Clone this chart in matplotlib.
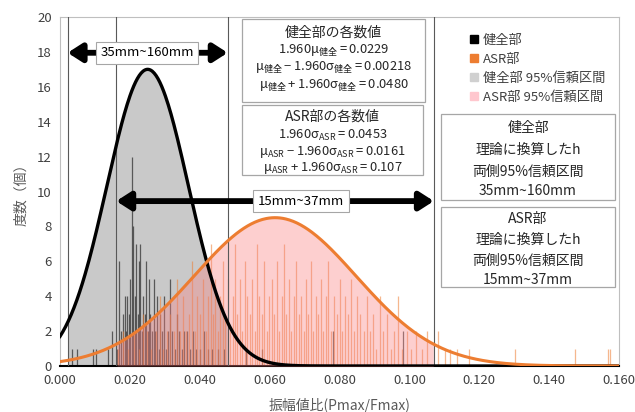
import numpy as np
import matplotlib
matplotlib.use("Agg")
import matplotlib.pyplot as plt
from matplotlib.patches import Rectangle, Patch

plt.rcParams["font.family"] = ["Noto Sans CJK JP", "DejaVu Sans"]
plt.rcParams["mathtext.fontset"] = "custom"
plt.rcParams["mathtext.rm"] = "Noto Sans CJK JP"
plt.rcParams["mathtext.it"] = "Noto Sans CJK JP"
plt.rcParams["mathtext.bf"] = "Noto Sans CJK JP:bold"

# --- data ------------------------------------------------------------------
# healthy part (健全部): bin position and count
healthy_x = [0.0033, 0.0049, 0.0094, 0.0102, 0.0137, 0.0149, 0.0163, 0.0169, 0.0174, 0.0179,
             0.0185, 0.0189, 0.0193, 0.0197, 0.0201, 0.0206, 0.0210, 0.0214, 0.0218, 0.0222,
             0.0226, 0.0230, 0.0234, 0.0238, 0.0243, 0.0247, 0.0251, 0.0255, 0.0259, 0.0264,
             0.0268, 0.0273, 0.0277, 0.0282, 0.0287, 0.0292, 0.0297, 0.0303, 0.0309, 0.0315,
             0.0321, 0.0328, 0.0334, 0.0341, 0.0348, 0.0356, 0.0364, 0.0372, 0.0381, 0.0390,
             0.0400, 0.0411, 0.0423, 0.0436, 0.0452, 0.0468, 0.0531, 0.0578, 0.0782, 0.0983]
healthy_n = [1, 1, 1, 1, 1, 2, 1, 6, 2, 3,
             4, 2, 4, 3, 5, 12, 8, 4, 7, 3,
             6, 7, 2, 4, 3, 6, 2, 5, 3, 2,
             5, 2, 4, 1, 3, 2, 4, 1, 2, 5,
             2, 1, 3, 2, 1, 2, 2, 1, 2, 1,
             1, 2, 1, 1, 1, 1, 1, 1, 2, 2]

# ASR part (ASR部)
asr_x = [0.0165, 0.0181, 0.0196, 0.0212, 0.0227, 0.0238, 0.0250, 0.0261, 0.0274, 0.0286,
         0.0295, 0.0305, 0.0316, 0.0327, 0.0335, 0.0344, 0.0352, 0.0361, 0.0369, 0.0377,
         0.0385, 0.0393, 0.0401, 0.0409, 0.0417, 0.0424, 0.0431, 0.0438, 0.0445, 0.0452,
         0.0459, 0.0466, 0.0473, 0.0480, 0.0487, 0.0494, 0.0501, 0.0508, 0.0515, 0.0522,
         0.0529, 0.0536, 0.0543, 0.0550, 0.0557, 0.0564, 0.0571, 0.0578, 0.0585, 0.0592,
         0.0599, 0.0606, 0.0613, 0.0620, 0.0627, 0.0634, 0.0641, 0.0648, 0.0655, 0.0662,
         0.0669, 0.0676, 0.0683, 0.0690, 0.0697, 0.0704, 0.0711, 0.0718, 0.0725, 0.0732,
         0.0739, 0.0746, 0.0753, 0.0760, 0.0768, 0.0776, 0.0784, 0.0792, 0.0800, 0.0808,
         0.0816, 0.0824, 0.0833, 0.0842, 0.0851, 0.0860, 0.0869, 0.0878, 0.0887, 0.0896,
         0.0905, 0.0915, 0.0925, 0.0935, 0.0946, 0.0957, 0.0968, 0.0980, 0.0993, 0.1006,
         0.1020, 0.1035, 0.1050, 0.1083, 0.1102, 0.1115, 0.1135, 0.1172, 0.1302, 0.1474,
         0.1568, 0.1574]
asr_n = [1, 2, 1, 2, 1, 3, 2, 1, 2, 4,
         1, 2, 3, 2, 5, 2, 4, 2, 3, 6,
         2, 4, 3, 5, 2, 4, 7, 3, 5, 2,
         4, 6, 3, 5, 2, 4, 7, 3, 5, 2,
         6, 4, 3, 5, 2, 7, 4, 3, 6, 2,
         4, 5, 3, 6, 2, 4, 7, 3, 5, 2,
         4, 6, 3, 4, 2, 5, 3, 6, 2, 4,
         3, 5, 2, 4, 6, 2, 4, 3, 5, 2,
         4, 3, 5, 2, 4, 3, 2, 4, 2, 3,
         1, 4, 2, 3, 1, 2, 4, 1, 2, 1,
         2, 1, 2, 2, 1, 1, 1, 1, 1, 1,
         1, 1]

# fitted normal curves (values from the annotation boxes)
ci_healthy = (0.00218, 0.0480)
ci_asr = (0.0161, 0.107)
peak_healthy = 17.0
peak_asr = 8.5

x_ticks = [0.0, 0.02, 0.04, 0.06, 0.08, 0.10, 0.12, 0.14, 0.16]
y_ticks = list(range(0, 21, 2))

# --- layout helpers (pixel -> figure fraction) ------------------------------
W, H = 635, 412


def fx(px):
    return px / W


def fy(py):
    return 1 - py / H


fig = plt.figure(figsize=(W / 100, H / 100), dpi=100)
ax = fig.add_axes([fx(60), fy(366), fx(619) - fx(60), fy(17) - fy(366)])

mu_h = sum(ci_healthy) / 2
sd_h = (ci_healthy[1] - ci_healthy[0]) / (2 * 1.96)
mu_a = sum(ci_asr) / 2
sd_a = (ci_asr[1] - ci_asr[0]) / (2 * 1.96)

xs = np.linspace(0, 0.16, 600)
curve_h = peak_healthy * np.exp(-0.5 * ((xs - mu_h) / sd_h) ** 2)
curve_a = peak_asr * np.exp(-0.5 * ((xs - mu_a) / sd_a) ** 2)

grey_fill = "#C9C9C9"
pink_fill = "#FA8282"
orange = "#ED7D31"

m = (xs >= ci_healthy[0]) & (xs <= ci_healthy[1])
ax.fill_between(xs[m], 0, curve_h[m], color=grey_fill, lw=0, zorder=1)

ax.vlines(healthy_x, 0, healthy_n, color="#333333", lw=0.9, alpha=0.75, zorder=2)
ax.vlines(asr_x, 0, asr_n, color=orange, lw=0.9, alpha=0.55, zorder=2)

m = (xs >= ci_asr[0]) & (xs <= ci_asr[1])
ax.fill_between(xs[m], 0, curve_a[m], color=pink_fill, alpha=0.38, lw=0, zorder=3)

for xv in list(ci_healthy) + list(ci_asr):
    ax.axvline(xv, color="#595959", lw=0.8, zorder=4)

ax.plot(xs, curve_h, color="black", lw=2.4, zorder=5)
ax.plot(xs, curve_a, color=orange, lw=2.2, zorder=5)

ax.set_xlim(0, 0.16)
ax.set_ylim(0, 20)
ax.set_xticks(x_ticks)
ax.set_xticklabels([f"{v:.3f}" for v in x_ticks])
ax.set_yticks(y_ticks)
ax.tick_params(length=0, labelsize=9.5, labelcolor="#404040", pad=6)
for s in ["top", "right", "left"]:
    ax.spines[s].set_color("#BFBFBF")
    ax.spines[s].set_linewidth(0.8)
ax.spines["bottom"].set_color("black")
ax.spines["bottom"].set_linewidth(1.5)
ax.set_xlabel("振幅値比(Pmax/Fmax)", fontsize=10, color="#595959", labelpad=8)
ax.set_ylabel("度数（個）", fontsize=10, color="#595959", labelpad=6)

# --- double arrows with labels ---------------------------------------------
arrow_style = "<|-|>,head_length=0.7,head_width=0.45"
for (x0, x1), yv, lab, xc in [(ci_healthy, 17.95, "35mm~160mm", 0.0249),
                              (ci_asr, 9.45, "15mm~37mm", 0.0690)]:
    ax.annotate("", xy=(x1, yv), xytext=(x0, yv),
                arrowprops=dict(arrowstyle=arrow_style, color="black", lw=4.2,
                                shrinkA=0, shrinkB=0, mutation_scale=12),
                zorder=6)
    ax.text(xc, yv, lab, ha="center", va="center", fontsize=9.5, zorder=7,
            bbox=dict(boxstyle="square,pad=0.35", fc="white", ec="#A6A6A6", lw=0.8))

# --- annotation boxes -------------------------------------------------------
def box(x0, y0, x1, y1):
    r = Rectangle((fx(x0), fy(y1)), fx(x1) - fx(x0), fy(y0) - fy(y1),
                  transform=fig.transFigure, fc="white", ec="#A6A6A6", lw=0.9, zorder=8)
    fig.add_artist(r)


def lines(xc, ys, texts, size=10):
    for i, (yv, t) in enumerate(zip(ys, texts)):
        s = size if i == 0 or "$" not in t else size - 0.7
        fig.text(fx(xc), fy(yv), t, ha="center", va="center", fontsize=s,
                 color="#262626", zorder=9)


box(242, 19, 425, 102)
lines(333.5, [33, 51, 68, 86],
      ["健全部の各数値",
       r"$1.960μ_{健全} = 0.0229$",
       r"$μ_{健全} - 1.960σ_{健全} = 0.00218$",
       r"$μ_{健全} + 1.960σ_{健全} = 0.0480$"])

box(242, 105, 423, 175)
lines(332.5, [117, 135, 152, 168],
      ["ASR部の各数値",
       r"$1.960σ_{\mathrm{ASR}} = 0.0453$",
       r"$μ_{\mathrm{ASR}} - 1.960σ_{\mathrm{ASR}} = 0.0161$",
       r"$μ_{\mathrm{ASR}} + 1.960σ_{\mathrm{ASR}} = 0.107$"])

box(441, 114, 615, 200)
lines(528, [128, 150, 172, 191],
      ["健全部", "理論に換算したh", "両側95%信頼区間", "35mm~160mm"])

box(441, 207, 615, 287)
lines(528, [219, 240, 261, 280],
      ["ASR部", "理論に換算したh", "両側95%信頼区間", "15mm~37mm"])

# --- legend ----------------------------------------------------------------
handles = [Patch(color="black"), Patch(color=orange),
           Patch(color="#D0D0D0"), Patch(color="#FFC7CE")]
labels = ["健全部", "ASR部", "健全部 95%信頼区間", "ASR部 95%信頼区間"]
fig.legend(handles, labels, loc="upper left", bbox_to_anchor=(fx(458), fy(22)),
           frameon=False, fontsize=9.5, handlelength=0.6, handleheight=0.6,
           handletextpad=0.4, labelspacing=0.45, labelcolor="#404040")

fig.savefig("out.png", dpi=100)
